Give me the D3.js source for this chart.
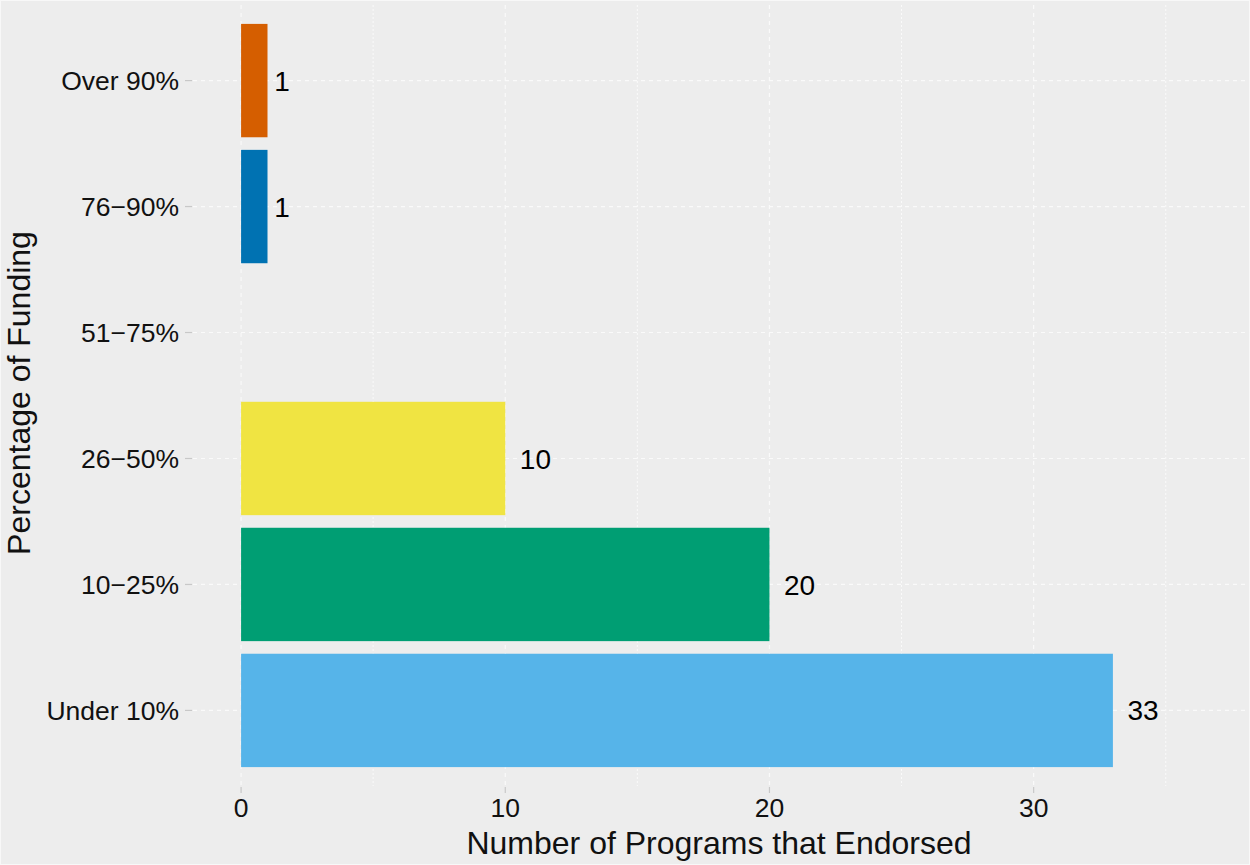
<!DOCTYPE html>
<html><head><meta charset="utf-8">
<script src="https://cdn.jsdelivr.net/npm/d3@7"></script>
<style>body{margin:0;background:#EDEDED;} svg{display:block;font-family:"Liberation Sans",Arial,sans-serif;}</style>
</head><body>
<script>
const categories = ["Under 10%", "10\u221225%", "26\u221250%", "51\u221275%", "76\u221290%", "Over 90%"];
const counts = [33, 20, 10, 0, 1, 1];
const colors = ["#56B4E9", "#009E73", "#F0E442", "#CC79A7", "#0072B2", "#D55E00"];
const xTicks = [0, 10, 20, 30];
const xMinor = [5, 15, 25, 35];
const xTitle = "Number of Programs that Endorsed";
const yTitle = "Percentage of Funding";

const W = 1250, H = 865;
const m = {left: 193, right: 1245, top: 5, bottom: 786};
const svg = d3.select("body").append("svg").attr("width", W).attr("height", H);
svg.append("rect").attr("x",0.5).attr("y",0.5).attr("width",W-1).attr("height",H-1)
  .attr("fill","#EDEDED").attr("stroke","#F8F8F8").attr("stroke-width",1);

const x = d3.scaleLinear().domain([-1.82, 38.0]).range([m.left, m.right]);
const y = d3.scalePoint().domain(categories.slice().reverse()).range([m.top, m.bottom]).padding(0.6);
const yc = c => y(c);
const bh = y.step() * 0.9;

const g = svg.append("g");
// minor grid
xMinor.forEach(v => g.append("line").attr("x1", x(v)).attr("x2", x(v)).attr("y1", m.top).attr("y2", m.bottom)
  .attr("stroke", "#FAFAFA").attr("stroke-width", 1).attr("stroke-dasharray", "2,2"));
// major grid
xTicks.forEach(v => g.append("line").attr("x1", x(v)).attr("x2", x(v)).attr("y1", m.top).attr("y2", m.bottom)
  .attr("stroke", "#FAFAFA").attr("stroke-width", 1.2).attr("stroke-dasharray", "4,4"));
categories.forEach(c => g.append("line").attr("x1", m.left).attr("x2", m.right).attr("y1", yc(c)).attr("y2", yc(c))
  .attr("stroke", "#FAFAFA").attr("stroke-width", 1.2).attr("stroke-dasharray", "4,4"));

// bars
categories.forEach((c, i) => {
  if (counts[i] <= 0) return;
  g.append("rect").attr("x", x(0)).attr("y", yc(c) - bh/2).attr("width", x(counts[i]) - x(0)).attr("height", bh)
    .attr("fill", colors[i]);
  const t = g.append("text").attr("x", x(counts[i])).attr("y", yc(c)).attr("dy", "0.36em")
    .attr("font-size", 28).attr("fill", "#000").text(counts[i]);
  const w = t.node().getComputedTextLength();
  t.attr("x", x(counts[i]) + 0.5 * w - 1);
});

// y ticks
categories.forEach(c => {
  g.append("line").attr("x1", m.left - 8).attr("x2", m.left - 1).attr("y1", yc(c)).attr("y2", yc(c)).attr("stroke", "#C8C8C8").attr("stroke-width", 1.2);
  g.append("text").attr("x", 179).attr("y", yc(c)).attr("dy", "0.36em").attr("text-anchor", "end")
    .attr("font-size", 26.5).attr("fill", "#111").text(c);
});
// x ticks
xTicks.forEach(v => {
  g.append("line").attr("x1", x(v)).attr("x2", x(v)).attr("y1", m.bottom + 1).attr("y2", m.bottom + 7).attr("stroke", "#C8C8C8").attr("stroke-width", 1.2);
  g.append("text").attr("x", x(v)).attr("y", 817).attr("text-anchor", "middle").attr("font-size", 26.5).attr("fill", "#111").text(v);
});
svg.append("text").attr("x", 719).attr("y", 854).attr("text-anchor", "middle")
  .attr("font-size", 32).attr("fill", "#111").text(xTitle);
svg.append("text").attr("transform", `translate(30,393) rotate(-90)`).attr("text-anchor", "middle")
  .attr("font-size", 32).attr("fill", "#111").text(yTitle);
</script>
</body></html>
